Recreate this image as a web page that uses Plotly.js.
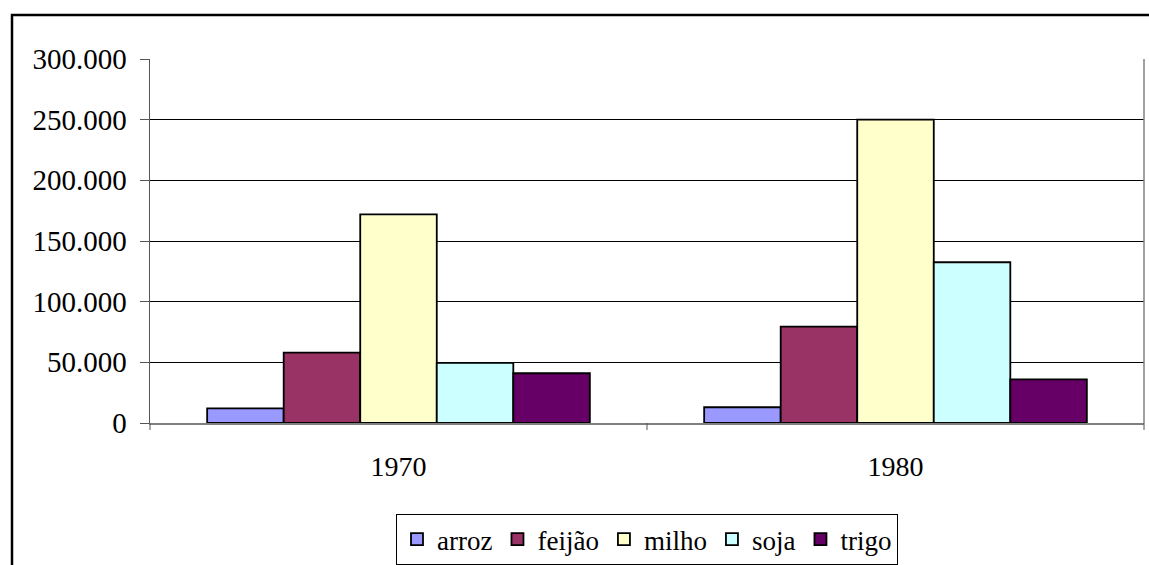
<!DOCTYPE html>
<html>
<head>
<meta charset="utf-8">
<script src="https://cdn.plot.ly/plotly-3.0.1.min.js"></script>
<style>
  html, body { margin: 0; padding: 0; background: #fff; }
  #chart { width: 1149px; height: 565px; }
</style>
</head>
<body>
<div id="chart"></div>
<script>
// Data
const categories = ['1970', '1980'];
const seriesNames = ['arroz', 'feijão', 'milho', 'soja', 'trigo'];
const arroz  = [12000, 13000];
const feijao = [58000, 79500];
const milho  = [172000, 250000];
const soja   = [49500, 132500];
const trigo  = [41000, 36000];
const seriesValues = [arroz, feijao, milho, soja, trigo];
const seriesColors = ['#9999FF', '#993366', '#FFFFCC', '#CCFFFF', '#660066'];
const yTickVals = [0, 50000, 100000, 150000, 200000, 250000, 300000];
const yTickText = ['0', '50.000', '100.000', '150.000', '200.000', '250.000', '300.000'];

const FONT = '"Liberation Serif", "Times New Roman", serif';

const traces = seriesNames.map((name, i) => ({
  type: 'bar',
  name: name,
  x: categories,
  y: seriesValues[i],
  marker: { color: seriesColors[i], line: { color: '#000000', width: 1.8 } },
  hoverinfo: 'none'
}));

const W = 1149, H = 565;
const margin = { l: 150, r: 5, t: 59, b: 141.5, pad: 0, autoexpand: false };
const pw = W - margin.l - margin.r;
const ph = H - margin.t - margin.b;
// outer chart border (paper coordinates)
const bx0 = (12 - margin.l) / pw;
const bx1 = (W + 5 - margin.l) / pw;
const by1 = (H - 15 - margin.b) / ph;
const by0 = (-10 - margin.b) / ph;

const layout = {
  width: W, height: H,
  margin: margin,
  paper_bgcolor: '#ffffff',
  plot_bgcolor: '#ffffff',
  font: { family: FONT, size: 28, color: '#000' },
  barmode: 'group',
  bargap: 0.23,
  bargroupgap: 0,
  showlegend: true,
  legend: {
    orientation: 'h',
    xref: 'paper', yref: 'container',
    x: 0.5, xanchor: 'center',
    y: 1 - 514 / H, yanchor: 'top',
    bordercolor: '#000', borderwidth: 1,
    font: { family: FONT, size: 27, color: '#000' },
    itemwidth: 30,
    tracegroupgap: 0
  },
  xaxis: {
    type: 'category',
    showgrid: false,
    showline: true, linecolor: '#808080', linewidth: 1.5,
    ticks: 'outside', ticklen: 0,
    tickfont: { family: FONT, size: 28, color: '#000' },
    ticklabelstandoff: 18,
    zeroline: false,
    fixedrange: true
  },
  yaxis: {
    range: [0, 300000],
    tickvals: yTickVals,
    ticktext: yTickText,
    showgrid: true, gridcolor: '#000000', gridwidth: 1,
    showline: true, linecolor: '#555555', linewidth: 1.5,
    ticks: 'outside', ticklen: 9, tickcolor: '#555555', tickwidth: 1,
    tickfont: { family: FONT, size: 29, color: '#000' },
    ticklabelstandoff: 7,
    zeroline: false,
    fixedrange: true
  },
  shapes: [
    // right border of plot area
    { type: 'line', xref: 'paper', yref: 'paper', x0: 1, x1: 1, y0: 0, y1: 1,
      line: { color: '#808080', width: 1.5 } },
    // category tick marks below the x axis
    { type: 'line', xref: 'paper', yref: 'paper', x0: 0, x1: 0, y0: 0, y1: -7 / ph,
      line: { color: '#555555', width: 1 } },
    { type: 'line', xref: 'paper', yref: 'paper', x0: 0.5, x1: 0.5, y0: 0, y1: -7 / ph,
      line: { color: '#555555', width: 1 } },
    { type: 'line', xref: 'paper', yref: 'paper', x0: 1, x1: 1, y0: 0, y1: -7 / ph,
      line: { color: '#555555', width: 1 } },
    // outer chart frame
    { type: 'rect', xref: 'paper', yref: 'paper', x0: bx0, x1: bx1, y0: by0, y1: by1,
      line: { color: '#000000', width: 2.5 }, fillcolor: 'rgba(0,0,0,0)', layer: 'below' }
  ]
};

Plotly.newPlot('chart', traces, layout, { staticPlot: true, displayModeBar: false });
</script>
</body>
</html>
